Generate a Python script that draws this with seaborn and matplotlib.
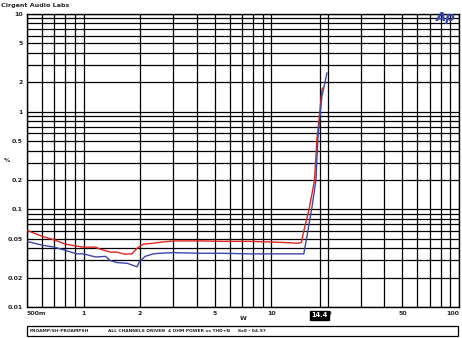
import matplotlib
matplotlib.use("Agg")
import matplotlib.pyplot as plt
import matplotlib.ticker as mticker
from matplotlib.patches import Rectangle
import pandas as pd
import seaborn as sns

# values (power in W, THD+N in %)
red_power = [0.5, 0.6, 0.7, 0.8, 0.92, 1.0, 1.16, 1.23, 1.39, 1.51, 1.65, 1.81, 1.93,
             2.08, 2.35, 2.55, 3.0, 4.2, 5.5, 7.6, 11.0, 14.0, 14.5, 14.9, 15.9,
             17.0, 17.5, 17.9, 18.4, 18.6, 18.9]
red_thd = [0.061, 0.053, 0.0486, 0.044, 0.042, 0.041, 0.041, 0.039, 0.0365, 0.0365,
           0.0347, 0.035, 0.040, 0.044, 0.045, 0.046, 0.0475, 0.0475, 0.047, 0.047,
           0.046, 0.045, 0.046, 0.060, 0.10, 0.20, 0.52, 0.77, 1.33, 1.68, 1.76]

blue_power = [0.5, 0.6, 0.7, 0.8, 0.92, 1.0, 1.16, 1.31, 1.39, 1.51, 1.71, 1.93, 1.98,
              2.13, 2.35, 2.55, 3.0, 4.2, 5.5, 7.6, 11.0, 14.9, 15.5, 16.5, 17.3,
              17.7, 18.1, 18.6, 19.3, 19.8]
blue_thd = [0.047, 0.043, 0.041, 0.038, 0.035, 0.035, 0.0325, 0.033, 0.0298, 0.0285,
            0.028, 0.0258, 0.029, 0.033, 0.035, 0.0355, 0.036, 0.0355, 0.0355, 0.035,
            0.035, 0.035, 0.053, 0.107, 0.20, 0.52, 0.83, 1.42, 1.98, 2.5]

x_ticks = [0.5, 1, 2, 5, 10, 20, 50, 100]
x_labels = ["500m", "1", "2", "5", "10", "20", "50", "100"]
y_ticks = [0.01, 0.02, 0.05, 0.1, 0.2, 0.5, 1, 2, 5, 10]
y_labels = ["0.01", "0.02", "0.05", "0.1", "0.2", "0.5", "1", "2", "5", "10"]

cursor_pos = 18.1
cursor_text = "14.4"

footer_texts = ["PROAMP/SH-PROAMPSH", "ALL CHANNELS DRIVEN", "4 OHM POWER vs THD+N", "8x8 - 04.97"]
footer_x = [30, 108, 168, 238]

RED = "#e0261c"
BLUE = "#3a48a8"

sns.set_style("white")
plt.rcParams['font.family'] = ['DejaVu Sans']

df = pd.concat([
    pd.DataFrame({"W": red_power, "pct": red_thd, "ch": "A"}),
    pd.DataFrame({"W": blue_power, "pct": blue_thd, "ch": "B"}),
])

fig = plt.figure(figsize=(4.62, 3.38), dpi=100)
ax = fig.add_axes([27 / 462, 1 - 307 / 338, 432 / 462, 293 / 338])

sns.lineplot(data=df, x="W", y="pct", hue="ch", palette={"A": RED, "B": BLUE},
             estimator=None, sort=False, linewidth=1.0, legend=False, ax=ax, zorder=3)

ax.set_xscale("log")
ax.set_yscale("log")
ax.set_xlim(0.5, 100)
ax.set_ylim(0.01, 10)

ax.xaxis.set_major_locator(mticker.FixedLocator(x_ticks))
ax.xaxis.set_major_formatter(mticker.FixedFormatter(x_labels))
ax.yaxis.set_major_locator(mticker.FixedLocator(y_ticks))
ax.yaxis.set_major_formatter(mticker.FixedFormatter(y_labels))
ax.xaxis.set_minor_locator(mticker.LogLocator(base=10, subs=range(2, 10), numticks=20))
ax.yaxis.set_minor_locator(mticker.LogLocator(base=10, subs=range(2, 10), numticks=20))
ax.xaxis.set_minor_formatter(mticker.NullFormatter())
ax.yaxis.set_minor_formatter(mticker.NullFormatter())

ax.grid(True, which="both", color="black", linewidth=0.9)
ax.tick_params(which="both", length=0, labelsize=4.5, pad=3)
for lab in ax.get_xticklabels() + ax.get_yticklabels():
    lab.set_fontweight("bold")
xl = ax.get_xticklabels()
xl[0].set_horizontalalignment("left")
xl[-1].set_horizontalalignment("right")
for s in ax.spines.values():
    s.set_color("black")
    s.set_linewidth(1.0)
ax.set_xlabel("")
ax.set_ylabel("")

# cursor marker
ax.axvline(cursor_pos, color="black", linewidth=0.9, zorder=2)
ax.text(cursor_pos, -0.028, cursor_text, transform=ax.get_xaxis_transform(),
        ha="center", va="center", fontsize=4.8, fontweight="bold", color="white",
        bbox=dict(boxstyle="square,pad=0.25", fc="black", ec="black"), zorder=10, clip_on=False)

fig.text(0.003, 0.99, "Cirgent Audio Labs", ha="left", va="top", fontsize=4.6, fontweight="bold")
fig.text(446 / 462, 1 - 18 / 338, "Ap", ha="center", va="center", fontsize=9.5,
         fontweight="bold", fontstyle="italic", color=BLUE)
fig.text(7 / 462, 1 - 160 / 338, "%", ha="center", va="center", fontsize=4.5, fontweight="bold")
fig.text(243 / 462, 1 - 318 / 338, "W", ha="center", va="center", fontsize=4.5, fontweight="bold")

# footer box
fig.add_artist(Rectangle((27 / 462, 1 - 336 / 338), 431 / 462, 10 / 338,
                         transform=fig.transFigure, fill=False, ec="black", lw=0.9))
footer_y = 1 - 331 / 338
for txt, fx in zip(footer_texts, footer_x):
    fig.text(fx / 462, footer_y, txt, va="center", fontsize=3.2, fontweight="bold")

fig.savefig("out.png", dpi=100)
